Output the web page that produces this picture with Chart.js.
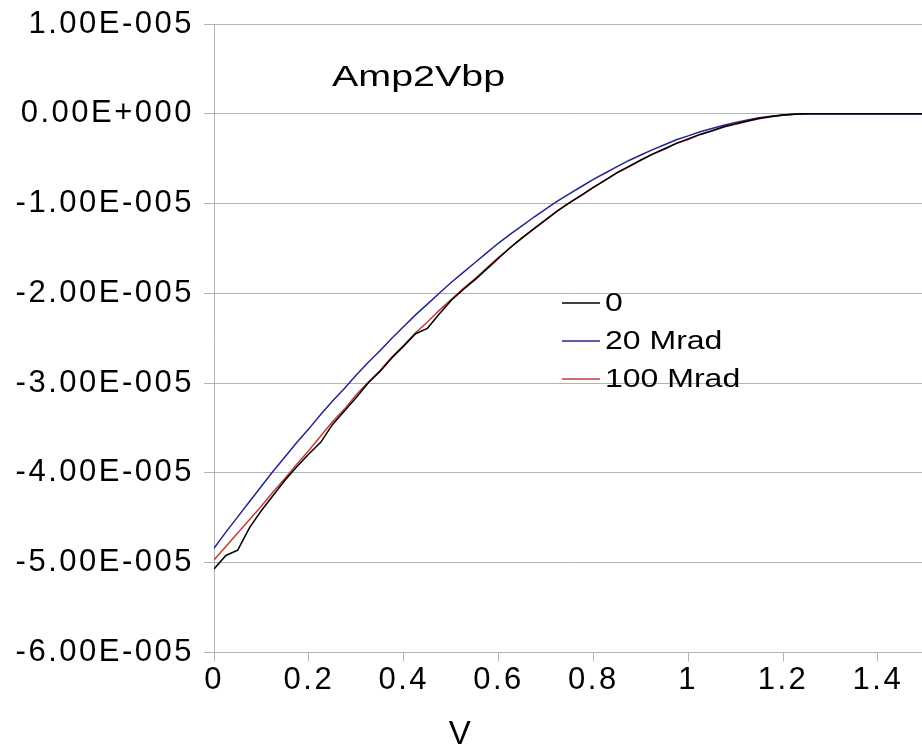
<!DOCTYPE html>
<html>
<head>
<meta charset="utf-8">
<script src="https://cdn.jsdelivr.net/npm/chart.js@4.4.1/dist/chart.umd.min.js"></script>
<style>
  html, body { margin: 0; padding: 0; background: #fff; }
  #wrap { width: 922px; height: 755px; position: relative; }
</style>
</head>
<body>
<div id="wrap"><canvas id="chart"></canvas></div>
<script>
// values are in units of 1e-5
const UNIT = 1e-5;

const volts = [
  0, 0.025, 0.05, 0.075, 0.1, 0.125, 0.15, 0.175, 0.2, 0.225,
  0.25, 0.275, 0.3, 0.325, 0.35, 0.375, 0.4, 0.425, 0.45, 0.475,
  0.5, 0.525, 0.55, 0.575, 0.6, 0.625, 0.65, 0.675, 0.7, 0.725,
  0.75, 0.775, 0.8, 0.825, 0.85, 0.875, 0.9, 0.925, 0.95, 0.975,
  1.0, 1.025, 1.05, 1.075, 1.1, 1.125, 1.15, 1.175, 1.2, 1.225,
  1.25, 1.275, 1.3, 1.325, 1.35, 1.375, 1.4, 1.425, 1.45, 1.475, 1.5
];

const dose0 = [
  -5.07, -4.92, -4.86, -4.61, -4.42, -4.25, -4.08, -3.93, -3.79, -3.66,
  -3.46, -3.31, -3.16, -3.00, -2.87, -2.72, -2.59, -2.45, -2.39, -2.23,
  -2.08, -1.96, -1.85, -1.73, -1.61, -1.49, -1.38, -1.28, -1.18, -1.08,
  -0.99, -0.905, -0.82, -0.74, -0.655, -0.585, -0.515, -0.45, -0.39, -0.33,
  -0.28, -0.23, -0.19, -0.145, -0.11, -0.08, -0.05, -0.03, -0.015, -0.004,
  0, 0, 0, 0, 0, 0, 0, 0, 0, 0, 0
];

const dose20 = [
  -4.84, -4.66, -4.49, -4.32, -4.15, -3.98, -3.82, -3.66, -3.51, -3.35,
  -3.20, -3.06, -2.91, -2.77, -2.64, -2.50, -2.37, -2.24, -2.12, -2.00,
  -1.88, -1.77, -1.66, -1.55, -1.44, -1.34, -1.245, -1.15, -1.06, -0.97,
  -0.889, -0.81, -0.731, -0.66, -0.588, -0.52, -0.459, -0.40, -0.345, -0.29,
  -0.246, -0.20, -0.163, -0.127, -0.096, -0.068, -0.045, -0.027, -0.013, -0.003,
  0, 0, 0, 0, 0, 0, 0, 0, 0, 0, 0
];

const dose100 = [
  -4.97, -4.82, -4.67, -4.52, -4.37, -4.21, -4.06, -3.90, -3.75, -3.59,
  -3.43, -3.29, -3.13, -2.99, -2.86, -2.71, -2.58, -2.44, -2.32, -2.19,
  -2.07, -1.95, -1.84, -1.72, -1.60, -1.49, -1.385, -1.28, -1.18, -1.08,
  -0.989, -0.91, -0.821, -0.74, -0.658, -0.59, -0.519, -0.45, -0.395, -0.33,
  -0.286, -0.23, -0.193, -0.147, -0.116, -0.083, -0.055, -0.032, -0.016, -0.004,
  0, 0, 0, 0, 0, 0, 0, 0, 0, 0, 0
];

const seriesNames = ['0', '20 Mrad', '100 Mrad'];
const seriesColors = ['#000000', '#25258f', '#c43c3c'];

const xTickLabels = ['0', '0.2', '0.4', '0.6', '0.8', '1', '1.2', '1.4'];
const yTickLabels = ['-6.00E-005', '-5.00E-005', '-4.00E-005', '-3.00E-005',
  '-2.00E-005', '-1.00E-005', '0.00E+000', '1.00E-005'];

const noteText = 'Amp2Vbp';
const xTitle = 'V';

function toPoints(values) {
  return values.map((v, i) => ({ x: volts[i], y: v * UNIT }));
}

// draws text stretched wider, the way the source picture has it
function drawWide(ctx, text, x, y, size, sx, baseline) {
  ctx.save();
  ctx.translate(x, y);
  ctx.scale(sx, 1);
  ctx.font = size + 'px "Liberation Sans"';
  ctx.fillStyle = '#000';
  ctx.textBaseline = baseline || 'alphabetic';
  ctx.fillText(text, 0, 0);
  ctx.restore();
}

const spacingPlugin = {
  id: 'spacing',
  beforeDraw(chart) {
    chart.ctx.letterSpacing = '2.5px';
  }
};

const overlayPlugin = {
  id: 'overlay',
  afterDraw(chart) {
    const ctx = chart.ctx;
    const a = chart.chartArea;
    ctx.save();
    ctx.letterSpacing = '0px';
    drawWide(ctx, noteText, a.left + 118, a.top + 62, 29, 1.36);

    // legend inside the plot
    chart.data.datasets.forEach((ds, i) => {
      const y = a.top + 279 + i * 38;
      ctx.strokeStyle = ds.borderColor;
      ctx.lineWidth = 1.5;
      ctx.beginPath();
      ctx.moveTo(a.left + 348, y);
      ctx.lineTo(a.left + 386, y);
      ctx.stroke();
      drawWide(ctx, ds.label, a.left + 391, y + 1, 25, 1.28, 'middle');
    });
    ctx.restore();
  }
};

Chart.defaults.font.family = '"Liberation Sans", Arial, sans-serif';
Chart.defaults.color = '#000';

new Chart(document.getElementById('chart'), {
  type: 'line',
  data: {
    datasets: [dose0, dose20, dose100].map((vals, i) => ({
      label: seriesNames[i],
      data: toPoints(vals),
      borderColor: seriesColors[i],
      backgroundColor: seriesColors[i],
      borderWidth: 1.5,
      pointRadius: 0,
      tension: 0,
      fill: false
    }))
  },
  options: {
    responsive: true,
    maintainAspectRatio: false,
    animation: false,
    layout: { padding: { top: 24, left: 0, right: 0, bottom: 0 } },
    plugins: {
      legend: { display: false },
      tooltip: { enabled: false },
      title: {
        display: true,
        text: xTitle,
        position: 'bottom',
        color: '#000',
        font: { size: 33, weight: 'normal' },
        padding: 0
      }
    },
    scales: {
      x: {
        type: 'linear',
        min: 0,
        max: 1.493,
        afterFit: function(scale) { scale.height = 63; },
        border: { display: true, color: '#b3b3b3', width: 1 },
        grid: {
          drawOnChartArea: false,
          drawTicks: true,
          tickLength: 9,
          color: '#b3b3b3'
        },
        ticks: {
          stepSize: 0.2,
          includeBounds: false,
          padding: 0,
          maxRotation: 0,
          font: { size: 31 },
          color: '#000',
          callback: function(value) {
            return xTickLabels[Math.round(value / 0.2)];
          }
        }
      },
      y: {
        min: -6 * UNIT,
        max: 1 * UNIT,
        afterFit: function(scale) {
          scale.width = 214;
          scale.paddingTop = 0;
          scale.paddingBottom = 0;
        },
        border: { display: true, color: '#b3b3b3', width: 1 },
        grid: {
          drawTicks: true,
          tickLength: 10,
          color: '#b3b3b3',
          lineWidth: 1
        },
        ticks: {
          stepSize: UNIT,
          padding: 10,
          font: { size: 31 },
          color: '#000',
          callback: function(value) {
            return yTickLabels[Math.round(value / UNIT) + 6];
          }
        }
      }
    }
  },
  plugins: [spacingPlugin, overlayPlugin]
});
</script>
</body>
</html>
